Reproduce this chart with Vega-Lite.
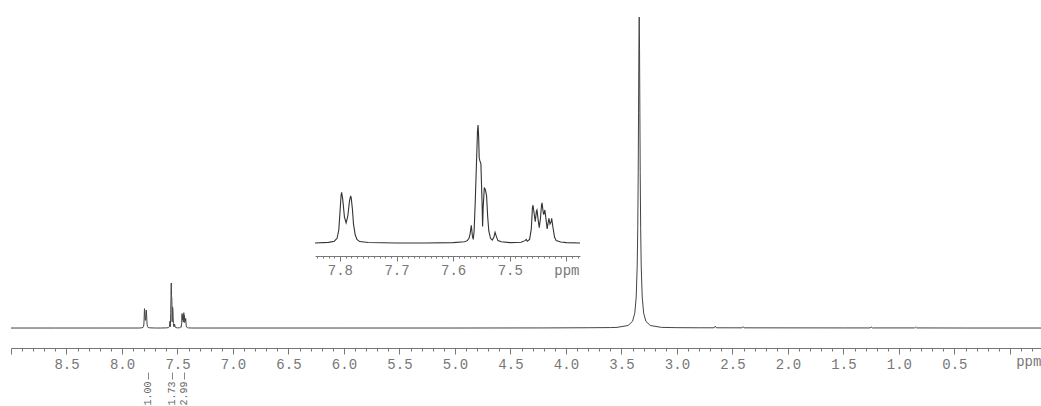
{
  "$schema": "https://vega.github.io/schema/vega-lite/v6.json",
  "width": 1030,
  "height": 348,
  "autosize": {"type": "none"},
  "padding": {"left": 11, "top": 0, "right": 0, "bottom": 58},
  "background": "white",
  "config": {
    "view": {"stroke": null},
    "axis": {"labelFont": "Liberation Mono", "labelFontSize": 14, "labelColor": "#777", "domainColor": "#777", "tickColor": "#777", "grid": false, "title": null}
  },
  "datasets": {
    "spectrum": [
      {"ppm": 9.0, "i": 0}, {"ppm": 8.6, "i": 0}, {"ppm": 8.2, "i": 0}, {"ppm": 7.9, "i": 0},
      {"ppm": 7.844, "i": 0}, {"ppm": 7.82, "i": 0.5}, {"ppm": 7.81, "i": 1.5}, {"ppm": 7.805, "i": 4},
      {"ppm": 7.802, "i": 11}, {"ppm": 7.8, "i": 25}, {"ppm": 7.798, "i": 40}, {"ppm": 7.797, "i": 43},
      {"ppm": 7.795, "i": 37}, {"ppm": 7.792, "i": 22}, {"ppm": 7.789, "i": 17}, {"ppm": 7.786, "i": 23},
      {"ppm": 7.783, "i": 36}, {"ppm": 7.781, "i": 40}, {"ppm": 7.78, "i": 38}, {"ppm": 7.778, "i": 29},
      {"ppm": 7.776, "i": 16}, {"ppm": 7.773, "i": 7}, {"ppm": 7.77, "i": 3}, {"ppm": 7.765, "i": 1.2},
      {"ppm": 7.75, "i": 0.4}, {"ppm": 7.7, "i": 0}, {"ppm": 7.65, "i": 0}, {"ppm": 7.6, "i": 0.3},
      {"ppm": 7.58, "i": 1}, {"ppm": 7.575, "i": 2}, {"ppm": 7.572, "i": 4}, {"ppm": 7.57, "i": 8},
      {"ppm": 7.568, "i": 15}, {"ppm": 7.566, "i": 6}, {"ppm": 7.5645, "i": 3}, {"ppm": 7.563, "i": 10},
      {"ppm": 7.561, "i": 35}, {"ppm": 7.559, "i": 65}, {"ppm": 7.557, "i": 95}, {"ppm": 7.556, "i": 100},
      {"ppm": 7.555, "i": 90}, {"ppm": 7.554, "i": 72}, {"ppm": 7.553, "i": 70}, {"ppm": 7.551, "i": 67},
      {"ppm": 7.549, "i": 35}, {"ppm": 7.548, "i": 14}, {"ppm": 7.547, "i": 30}, {"ppm": 7.545, "i": 47},
      {"ppm": 7.543, "i": 45}, {"ppm": 7.541, "i": 40}, {"ppm": 7.539, "i": 22}, {"ppm": 7.537, "i": 10},
      {"ppm": 7.534, "i": 4}, {"ppm": 7.531, "i": 2.5}, {"ppm": 7.528, "i": 5},
      {"ppm": 7.526, "i": 9}, {"ppm": 7.524, "i": 6}, {"ppm": 7.521, "i": 2}, {"ppm": 7.515, "i": 1},
      {"ppm": 7.5, "i": 0.3}, {"ppm": 7.48, "i": 0.6}, {"ppm": 7.473, "i": 2}, {"ppm": 7.471, "i": 3},
      {"ppm": 7.469, "i": 1.5}, {"ppm": 7.465, "i": 3}, {"ppm": 7.462, "i": 12}, {"ppm": 7.46, "i": 30},
      {"ppm": 7.459, "i": 32}, {"ppm": 7.457, "i": 25}, {"ppm": 7.455, "i": 18}, {"ppm": 7.453, "i": 27},
      {"ppm": 7.452, "i": 28}, {"ppm": 7.45, "i": 20}, {"ppm": 7.448, "i": 13}, {"ppm": 7.446, "i": 20},
      {"ppm": 7.444, "i": 32}, {"ppm": 7.443, "i": 34}, {"ppm": 7.441, "i": 26}, {"ppm": 7.44, "i": 24},
      {"ppm": 7.438, "i": 28}, {"ppm": 7.436, "i": 20}, {"ppm": 7.434, "i": 12}, {"ppm": 7.432, "i": 18},
      {"ppm": 7.431, "i": 21}, {"ppm": 7.429, "i": 16}, {"ppm": 7.427, "i": 18}, {"ppm": 7.426, "i": 21},
      {"ppm": 7.424, "i": 14}, {"ppm": 7.421, "i": 5}, {"ppm": 7.418, "i": 2}, {"ppm": 7.41, "i": 0.8},
      {"ppm": 7.4, "i": 0.3}, {"ppm": 7.376, "i": 0}, {"ppm": 7.2, "i": 0}, {"ppm": 6.0, "i": 0},
      {"ppm": 5.0, "i": 0}, {"ppm": 4.2, "i": 0.2}, {"ppm": 3.8, "i": 0.6}, {"ppm": 3.6, "i": 1},
      {"ppm": 3.54, "i": 1.4}, {"ppm": 3.44, "i": 5.6}, {"ppm": 3.4, "i": 15}, {"ppm": 3.38, "i": 33},
      {"ppm": 3.367, "i": 69}, {"ppm": 3.358, "i": 138}, {"ppm": 3.353, "i": 224}, {"ppm": 3.349, "i": 345},
      {"ppm": 3.346, "i": 478}, {"ppm": 3.343, "i": 622}, {"ppm": 3.34, "i": 691}, {"ppm": 3.337, "i": 622},
      {"ppm": 3.334, "i": 478}, {"ppm": 3.331, "i": 345}, {"ppm": 3.327, "i": 224}, {"ppm": 3.322, "i": 138},
      {"ppm": 3.313, "i": 69}, {"ppm": 3.3, "i": 33}, {"ppm": 3.28, "i": 15}, {"ppm": 3.24, "i": 5.6},
      {"ppm": 3.14, "i": 1.4}, {"ppm": 3.0, "i": 0.8}, {"ppm": 2.8, "i": 0.5}, {"ppm": 2.665, "i": 0.5},
      {"ppm": 2.655, "i": 4}, {"ppm": 2.645, "i": 0.5}, {"ppm": 2.415, "i": 0.4}, {"ppm": 2.405, "i": 3},
      {"ppm": 2.395, "i": 0.4}, {"ppm": 2.0, "i": 0.3}, {"ppm": 1.5, "i": 0.2}, {"ppm": 1.26, "i": 0.2},
      {"ppm": 1.25, "i": 2.5}, {"ppm": 1.24, "i": 0.2}, {"ppm": 0.86, "i": 0.2}, {"ppm": 0.85, "i": 2},
      {"ppm": 0.84, "i": 0.2}, {"ppm": 0.4, "i": 0}, {"ppm": -0.28, "i": 0}
    ],
    "integrals": [
      {"ppm": 7.77, "value": "1.00"},
      {"ppm": 7.55, "value": "1.73"},
      {"ppm": 7.445, "value": "2.99"}
    ]
  },
  "resolve": {"scale": {"x": "independent", "y": "independent"}, "axis": {"x": "independent"}},
  "layer": [
    {
      "data": {"name": "spectrum"},
      "mark": {"type": "line", "color": "#444", "strokeWidth": 1},
      "encoding": {
        "x": {
          "field": "ppm", "type": "quantitative",
          "scale": {"domain": [9, -0.28], "nice": false, "zero": false},
          "axis": {
            "orient": "bottom",
            "values": [9,8.9,8.8,8.7,8.6,8.5,8.4,8.3,8.2,8.1,8,7.9,7.8,7.7,7.6,7.5,7.4,7.3,7.2,7.1,7,6.9,6.8,6.7,6.6,6.5,6.4,6.3,6.2,6.1,6,5.9,5.8,5.7,5.6,5.5,5.4,5.3,5.2,5.1,5,4.9,4.8,4.7,4.6,4.5,4.4,4.3,4.2,4.1,4,3.9,3.8,3.7,3.6,3.5,3.4,3.3,3.2,3.1,3,2.9,2.8,2.7,2.6,2.5,2.4,2.3,2.2,2.1,2,1.9,1.8,1.7,1.6,1.5,1.4,1.3,1.2,1.1,1,0.9,0.8,0.7,0.6,0.5,0.4,0.3,0.2,0.1,0,-0.1,-0.165,-0.2],
            "tickSize": {"condition": {"test": "abs(datum.value*2 - round(datum.value*2)) < 0.001", "value": 6}, "value": 3},
            "tickOpacity": {"condition": {"test": "abs(datum.value + 0.165) < 0.001", "value": 0}, "value": 1},
            "labelExpr": "abs(datum.value + 0.165) < 0.001 ? 'ppm' : ((abs(datum.value*2 - round(datum.value*2)) < 0.001 && datum.value > 0.2 && datum.value < 8.8) ? format(datum.value, '.1f') : '')",
            "labelOverlap": false, "labelFlush": false, "labelBound": false, "labelPadding": 3
          }
        },
        "y": {"field": "i", "type": "quantitative", "scale": {"domain": [-44.4, 728.9], "nice": false, "zero": false}, "axis": null}
      }
    },
    {
      "data": {"name": "spectrum"},
      "transform": [{"filter": "datum.ppm <= 7.844 && datum.ppm >= 7.376"}],
      "mark": {"type": "line", "color": "#333", "strokeWidth": 1.1},
      "encoding": {
        "x": {
          "field": "ppm", "type": "quantitative",
          "scale": {"domain": [7.844, 7.376], "range": [304, 569], "nice": false, "zero": false},
          "axis": {
            "orient": "bottom", "offset": -92,
            "values": [7.84,7.83,7.82,7.81,7.8,7.79,7.78,7.77,7.76,7.75,7.74,7.73,7.72,7.71,7.7,7.69,7.68,7.67,7.66,7.65,7.64,7.63,7.62,7.61,7.6,7.59,7.58,7.57,7.56,7.55,7.54,7.53,7.52,7.51,7.5,7.49,7.48,7.47,7.46,7.45,7.44,7.43,7.42,7.41,7.4,7.39,7.38],
            "tickSize": {"condition": {"test": "abs(datum.value*10 - round(datum.value*10)) < 0.001", "value": 5}, "value": 2},
            "labelExpr": "abs(datum.value - 7.4) < 0.001 ? 'ppm' : (abs(datum.value*10 - round(datum.value*10)) < 0.001 ? format(datum.value, '.1f') : '')",
            "labelOverlap": false, "labelFlush": false, "labelBound": false, "labelPadding": 2
          }
        },
        "y": {"field": "i", "type": "quantitative", "scale": {"domain": [0, 100], "range": [243, 125], "nice": false, "zero": false}, "axis": null}
      }
    },
    {
      "data": {"name": "integrals"},
      "mark": {"type": "point", "opacity": 0},
      "encoding": {
        "x": {
          "field": "ppm", "type": "quantitative",
          "scale": {"domain": [9, -0.28], "nice": false, "zero": false},
          "axis": {
            "orient": "bottom", "offset": 24, "domain": false,
            "values": [7.77, 7.55, 7.445],
            "tickSize": 7, "tickColor": "#888",
            "labelAngle": 270, "labelAlign": "right", "labelBaseline": "middle",
            "labelPadding": 2, "labelFontSize": 10, "labelColor": "#666",
            "labelExpr": "pluck(data('integrals'), 'value')[indexof(pluck(data('integrals'), 'ppm'), datum.value)]",
            "labelOverlap": false, "labelFlush": false, "labelBound": false
          }
        }
      }
    }
  ]
}
